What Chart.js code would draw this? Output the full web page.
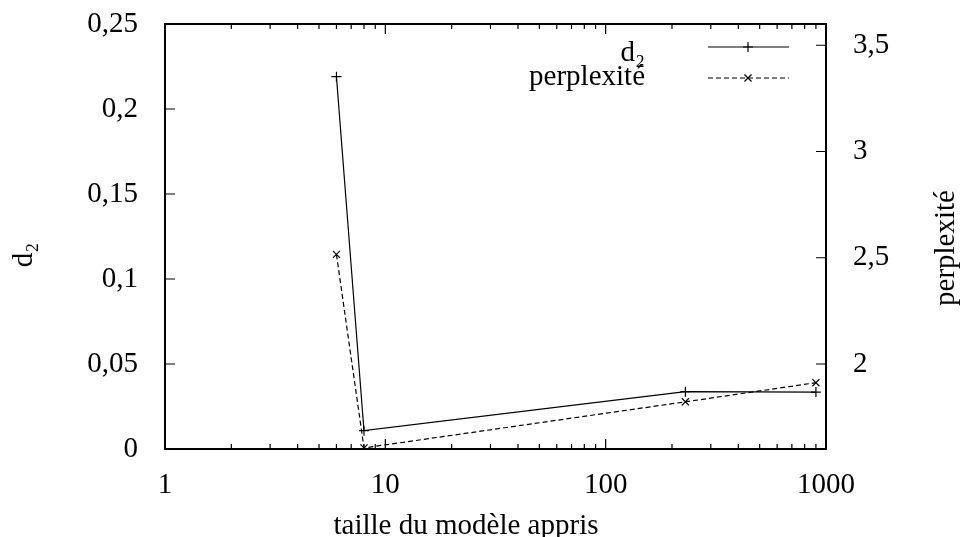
<!DOCTYPE html>
<html lang="fr">
<head>
<meta charset="UTF-8">
<title>d2 et perplexité</title>
<script src="https://cdn.jsdelivr.net/npm/chart.js"></script>
<style>
  html, body { margin: 0; padding: 0; background: #fff; }
</style>
</head>
<body>
<canvas id="canvas" width="965" height="537"></canvas>
<script>
// data
const sizes = [6, 8, 230, 900];            // taille du modèle appris
const d2Values = [0.219, 0.0108, 0.0337, 0.0335];
const perplexity = [2.516, 1.605, 1.822, 1.912];
const xTicks = [1, 10, 100, 1000];
const yTicks = [0, 0.05, 0.1, 0.15, 0.2, 0.25];
const y2Ticks = [2, 2.5, 3, 3.5];

const FONT = 'Liberation Serif';
const SIZE = 29;
const comma = v => String(v).replace('.', ',');

// no extra room for overflowing tick labels, the plot box is fixed
const noPad = s => { s.paddingTop = 0; s.paddingBottom = 0; s.paddingLeft = 0; s.paddingRight = 0; };

// frame, inward ticks, titles and legend in gnuplot style
const gnuplotLook = {
    id: 'gnuplotLook',
    afterDraw(chart) {
        const c = chart.ctx;
        const a = chart.chartArea;
        const sx = chart.scales.x, sy = chart.scales.y, sy2 = chart.scales.y2;
        c.save();
        c.strokeStyle = '#000';
        c.fillStyle = '#000';

        // ticks
        c.lineWidth = 1.2;
        c.beginPath();
        for (let d = 1; d < 1000; d *= 10) {
            for (let k = 1; k < 10; k++) {
                const px = sx.getPixelForValue(k * d);
                const len = k === 1 ? 10 : 5;
                c.moveTo(px, a.bottom); c.lineTo(px, a.bottom - len);
                c.moveTo(px, a.top); c.lineTo(px, a.top + len);
            }
        }
        yTicks.forEach(v => {
            const py = sy.getPixelForValue(v);
            c.moveTo(a.left, py); c.lineTo(a.left + 10, py);
        });
        y2Ticks.forEach(v => {
            const py = sy2.getPixelForValue(v);
            c.moveTo(a.right, py); c.lineTo(a.right - 10, py);
        });
        c.stroke();

        // frame
        c.lineWidth = 2;
        c.strokeRect(a.left, a.top, a.right - a.left, a.bottom - a.top);

        // axis titles
        c.font = SIZE + 'px "' + FONT + '"';
        c.textAlign = 'center';
        c.textBaseline = 'alphabetic';
        c.fillText('taille du modèle appris', 466, 534);

        c.textBaseline = 'middle';
        c.save();
        c.translate(24, 255);
        c.rotate(-Math.PI / 2);
        c.fillText('d₂', 0, 0);
        c.restore();
        c.save();
        c.translate(946, 248);
        c.rotate(-Math.PI / 2);
        c.fillText('perplexité', 0, 0);
        c.restore();

        // legend
        const rows = [[0, 47, 61], [1, 78, 85]];
        rows.forEach(([i, ly, base]) => {
            const ds = chart.data.datasets[i];
            c.textAlign = 'right';
            c.textBaseline = 'alphabetic';
            c.fillText(ds.label, 645, base);
            c.lineWidth = 1.2;
            c.setLineDash(ds.borderDash || []);
            c.beginPath();
            c.moveTo(708, ly); c.lineTo(789, ly);
            c.stroke();
            c.setLineDash([]);
            Chart.helpers.drawPoint(c, {
                pointStyle: ds.pointStyle, radius: ds.pointRadius,
                borderWidth: ds.pointBorderWidth, rotation: 0
            }, 748, ly);
        });
        c.restore();
    }
};

const ctx = document.getElementById('canvas').getContext('2d');
const chart = new Chart(ctx, {
    type: 'scatter',
    data: {
        datasets: [{
            label: 'd₂',
            data: sizes.map((x, i) => ({ x: x, y: d2Values[i] })),
            yAxisID: 'y',
            showLine: true,
            borderColor: '#000',
            backgroundColor: '#000',
            borderWidth: 1.2,
            pointStyle: 'cross',
            pointRadius: 5,
            pointBorderWidth: 1.2,
            pointBorderColor: '#000'
        }, {
            label: 'perplexité',
            data: sizes.map((x, i) => ({ x: x, y: perplexity[i] })),
            yAxisID: 'y2',
            showLine: true,
            borderColor: '#000',
            backgroundColor: '#000',
            borderWidth: 1.2,
            borderDash: [5, 3],
            pointStyle: 'crossRot',
            pointRadius: 5,
            pointBorderWidth: 1.2,
            pointBorderColor: '#000'
        }]
    },
    options: {
        responsive: false,
        animation: false,
        layout: { padding: { top: 24, left: 0, right: 0, bottom: 0 } },
        plugins: {
            legend: { display: false },
            tooltip: { enabled: false }
        },
        scales: {
            x: {
                type: 'logarithmic',
                min: 1,
                max: 1000,
                grid: { display: false, drawTicks: false },
                border: { display: false },
                afterBuildTicks: s => { s.ticks = xTicks.map(v => ({ value: v })); },
                afterFit: s => { s.height = 88; noPad(s); },
                ticks: {
                    autoSkip: false,
                    maxRotation: 0,
                    padding: 19,
                    color: '#000',
                    font: { family: FONT, size: SIZE },
                    callback: v => String(v)
                }
            },
            y: {
                position: 'left',
                min: 0,
                max: 0.25,
                grid: { display: false, drawTicks: false },
                border: { display: false },
                afterBuildTicks: s => { s.ticks = yTicks.map(v => ({ value: v })); },
                afterFit: s => { s.width = 165; noPad(s); },
                ticks: {
                    padding: 27,
                    color: '#000',
                    font: { family: FONT, size: SIZE },
                    callback: v => comma(v)
                }
            },
            y2: {
                position: 'right',
                min: 1.6,
                max: 3.6,
                grid: { display: false, drawTicks: false },
                border: { display: false },
                afterBuildTicks: s => { s.ticks = y2Ticks.map(v => ({ value: v })); },
                afterFit: s => { s.width = 139; noPad(s); },
                ticks: {
                    padding: 27,
                    color: '#000',
                    font: { family: FONT, size: SIZE },
                    callback: v => comma(v)
                }
            }
        }
    },
    plugins: [gnuplotLook]
});
</script>
</body>
</html>
